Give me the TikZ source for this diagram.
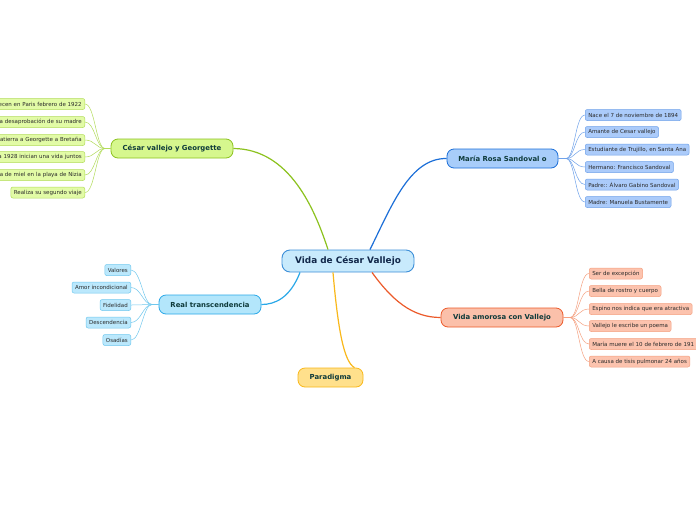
\documentclass[tikz,border=0pt]{standalone}
\usepackage{fontspec}
\setmainfont{DejaVu Sans}
\usetikzlibrary{calc}
\begin{document}
\begin{tikzpicture}[x=1pt,y=-1pt,
  mainbox/.style={draw=cBd, fill=cFill, line width=0.9pt, rounded corners=8pt, minimum height=22pt, inner sep=1pt, text=cTxt, font=\bfseries\fontsize{8.9}{10}\selectfont},
  subbox/.style={line width=0.8pt, rounded corners=7pt, minimum height=19pt, inner sep=1pt, text=sTxt, font=\bfseries\fontsize{6.9}{8}\selectfont},
  leafbox/.style={line width=0.5pt, rounded corners=2pt, minimum height=11pt, inner xsep=3pt, inner ysep=1pt, text=lTxt, font=\fontsize{5.5}{6.5}\selectfont},
  gleaf/.style={leafbox, draw=gLB, fill=gLF},
  bleaf/.style={leafbox, draw=bLB, fill=bLF},
  oleaf/.style={leafbox, draw=oLB, fill=oLF},
  cleaf/.style={leafbox, draw=cLB, fill=cLF},
  trunk/.style={line width=1.2pt},
  twig/.style={line width=0.5pt}
]
\definecolor{cBd}{HTML}{3D8FD8}
\definecolor{cFill}{HTML}{C8EAFC}
\definecolor{cTxt}{HTML}{12284A}
\definecolor{sTxt}{HTML}{0E3A3A}
\definecolor{lTxt}{HTML}{2A2A2A}
\definecolor{gB}{HTML}{8CC21E}
\definecolor{gF}{HTML}{D6F78E}
\definecolor{gLB}{HTML}{B2DC5A}
\definecolor{gLF}{HTML}{E2FBA6}
\definecolor{bB}{HTML}{1C6FD8}
\definecolor{bF}{HTML}{A8CDFA}
\definecolor{bLB}{HTML}{6FA2EA}
\definecolor{bLF}{HTML}{ABCBFA}
\definecolor{oB}{HTML}{EC5A2A}
\definecolor{oF}{HTML}{FBC0AA}
\definecolor{oLB}{HTML}{F5A080}
\definecolor{oLF}{HTML}{FCC3AE}
\definecolor{cB}{HTML}{2AA8E8}
\definecolor{cF}{HTML}{B3E6FB}
\definecolor{cLB}{HTML}{70C8EE}
\definecolor{cLF}{HTML}{BBE8FC}
\definecolor{yB}{HTML}{F9B81A}
\definecolor{yF}{HTML}{FFE08C}
\clip (0,0) rectangle (696,520);
\fill[white] (0,0) rectangle (696,520);

% main and sub nodes
\node[mainbox, minimum width=132pt] (c) at (348,261) {Vida de César Vallejo};
\node[subbox, draw=gB, fill=gF, minimum width=122pt] (g) at (172,148.5) {César vallejo y Georgette};
\node[subbox, draw=bB, fill=bF, minimum width=111pt] (m) at (502.5,158.5) {María Rosa Sandoval o};
\node[subbox, draw=cB, fill=cF, minimum width=102pt] (r) at (210,304.5) {Real transcendencia};
\node[subbox, draw=oB, fill=oF, minimum width=122pt] (v) at (502,317.5) {Vida amorosa con Vallejo};
\node[subbox, draw=yB, fill=yF, minimum width=65pt] (p) at (330.5,377.5) {Paradigma};

% trunks
\draw[trunk, draw=gB] ([xshift=-20pt]c.north) .. controls (315,210) and (290,149) .. (g.east);
\draw[trunk, draw=bB] ([xshift=22pt]c.north) .. controls (392,205) and (410,158) .. (m.west);
\draw[trunk, draw=cB] ([xshift=-48pt]c.south) .. controls (290,298) and (275,304.5) .. (r.east);
\draw[trunk, draw=oB] ([xshift=24pt]c.south) .. controls (392,300) and (412,317.5) .. (v.west);
\draw[trunk, draw=yB] ([xshift=-15pt]c.south) .. controls (338,330) and (344,362) .. ([xshift=24pt]p.north);

% green leaves (cut off on the left)
\foreach \i/\y/\t in {1/104/ecen en Paris febrero de 1922,
                      2/122/a desaprobación de su madre,
                      3/140/atierra a Georgette a Bretaña,
                      4/157/a 1928 inician una vida juntos,
                      5/175/a de miel en la playa de Nizia}{
  \node[gleaf, text width=110pt, align=right, anchor=east] (g\i) at (85,\y) {\t};
}
\node[gleaf, anchor=east] (g6) at (85,192.5) {Realiza su segundo viaje};
\coordinate (gj) at (105,148.5);
\draw[twig, draw=gLB] (g.west) -- (gj);
\foreach \i in {1,...,6}{
  \draw[twig, draw=gLB] (gj) .. controls (96,148.5) and ($(g\i.east)+(10,0)$) .. (g\i.east);
}

% blue leaves
\node[bleaf, anchor=west] (m1) at (585,115) {Nace el 7 de noviembre de 1894};
\node[bleaf, anchor=west] (m2) at (585,132) {Amante de Cesar vallejo};
\node[bleaf, anchor=west] (m3) at (585,149.5) {Estudiante de Trujillo, en Santa Ana};
\node[bleaf, anchor=west] (m4) at (585,167) {Hermano: Francisco Sandoval};
\node[bleaf, anchor=west] (m5) at (585,184.5) {Padre:: Álvaro Gabino Sandoval};
\node[bleaf, anchor=west] (m6) at (585,202) {Madre: Manuela Bustamente};
\coordinate (mj) at (566,158.5);
\draw[twig, draw=bLB] (m.east) -- (mj);
\foreach \i in {1,...,6}{
  \draw[twig, draw=bLB] (mj) .. controls (575,158.5) and ($(m\i.west)+(-10,0)$) .. (m\i.west);
}

% orange leaves
\node[oleaf, anchor=west] (v1) at (589,273.5) {Ser de excepción};
\node[oleaf, anchor=west] (v2) at (589,291) {Bella de rostro y cuerpo};
\node[oleaf, anchor=west] (v3) at (589,309) {Espino nos indica que era atractiva};
\node[oleaf, anchor=west] (v4) at (589,326) {Vallejo le escribe un poema};
\node[oleaf, anchor=west, text width=125pt, align=left] (v5) at (589,344) {María muere el 10 de febrero de 191};
\node[oleaf, anchor=west] (v6) at (589,361.5) {A causa de tisis pulmonar 24 años};
\coordinate (vj) at (570,317.5);
\draw[twig, draw=oLB] (v.east) -- (vj);
\foreach \i in {1,...,6}{
  \draw[twig, draw=oLB] (vj) .. controls (579,317.5) and ($(v\i.west)+(-10,0)$) .. (v\i.west);
}

% cyan leaves
\node[cleaf, anchor=east] (r1) at (131,270) {Valores};
\node[cleaf, anchor=east] (r2) at (131,287.5) {Amor incondicional};
\node[cleaf, anchor=east] (r3) at (131,305) {Fidelidad};
\node[cleaf, anchor=east] (r4) at (131,322.5) {Descendencia};
\node[cleaf, anchor=east] (r5) at (131,340) {Osadías};
\coordinate (rj) at (152,304.5);
\draw[twig, draw=cLB] (r.west) -- (rj);
\foreach \i in {1,...,5}{
  \draw[twig, draw=cLB] (rj) .. controls (143,304.5) and ($(r\i.east)+(10,0)$) .. (r\i.east);
}
\end{tikzpicture}
\end{document}
